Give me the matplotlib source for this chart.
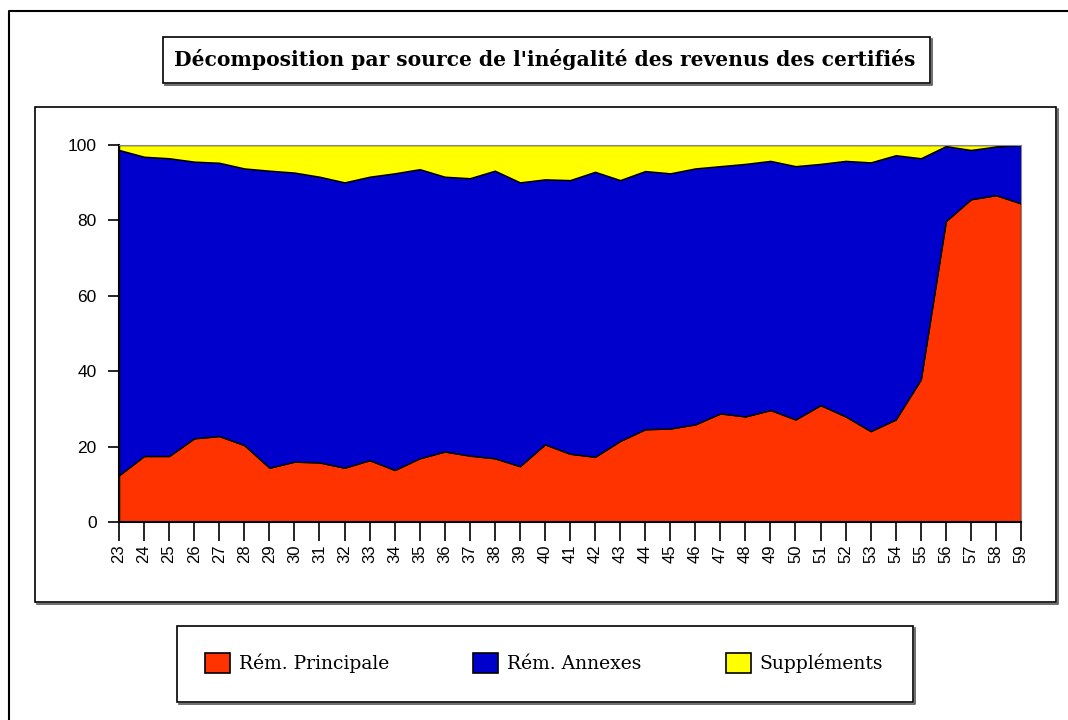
import matplotlib
matplotlib.use("Agg")
import matplotlib.pyplot as plt
from matplotlib.patches import Rectangle, Patch
from matplotlib.lines import Line2D
import numpy as np

# Data (share of inequality, %)
years = list(range(23, 60))
rem_principale = [12.4, 17.5, 17.5, 22.2, 22.8, 20.4, 14.4, 16.0, 15.8, 14.4,
                  16.4, 13.8, 16.9, 18.7, 17.6, 16.9, 14.8, 20.6, 18.1, 17.3,
                  21.5, 24.6, 24.8, 25.9, 28.8, 28.0, 29.7, 27.2, 31.0, 28.0,
                  24.1, 27.2, 37.8, 79.8, 85.6, 86.7, 84.5]
# cumulated top of "Rém. Annexes" (principale + annexes)
top_annexes = [98.7, 96.9, 96.5, 95.6, 95.3, 93.8, 93.2, 92.7, 91.6, 90.1,
               91.6, 92.5, 93.6, 91.6, 91.2, 93.2, 90.1, 90.9, 90.7, 92.9,
               90.7, 93.1, 92.5, 93.8, 94.4, 95.0, 95.8, 94.4, 95.0, 95.8,
               95.4, 97.3, 96.5, 99.7, 98.7, 99.6, 100.0]
rem_annexes = [t - p for t, p in zip(top_annexes, rem_principale)]
supplements = [100 - t for t in top_annexes]

labels = ["Rém. Principale", "Rém. Annexes", "Suppléments"]
colors = ["#FF3300", "#0000CC", "#FFFF00"]
title = "Décomposition par source de l'inégalité des revenus des certifiés"

W, H = 1068, 720
fig = plt.figure(figsize=(W / 100, H / 100), dpi=100)


def fx(x):
    return x / W


def fy(y):
    return 1 - y / H


def box(x0, y0, x1, y1, shadow=True):
    if shadow:
        fig.add_artist(Line2D([fx(x0 + 2), fx(x1 + 2), fx(x1 + 2)],
                              [fy(y1 + 2), fy(y1 + 2), fy(y0 + 2)],
                              color="#555555", lw=1.2, transform=fig.transFigure))
    fig.add_artist(Rectangle((fx(x0), fy(y1)), fx(x1) - fx(x0), fy(y0) - fy(y1),
                             transform=fig.transFigure, fill=False,
                             edgecolor="black", lw=1.2))


# outer frame (only left and top visible)
fig.add_artist(Line2D([fx(9), fx(9), fx(W)], [fy(H), fy(11), fy(11)],
                      color="black", lw=1.5, transform=fig.transFigure))

# title box
box(163, 37, 930, 83)
fig.text(fx(545), fy(60), title, ha="center", va="center",
         fontsize=14.6, fontweight="bold", family="DejaVu Serif")

# plot frame
box(35, 107, 1056, 602)

# axes
ax = fig.add_axes([fx(119), fy(522), fx(1021) - fx(119), fy(145) - fy(522)])
ax.stackplot(years, rem_principale, rem_annexes, supplements,
             colors=colors, edgecolor="black", linewidth=1.0)
ax.set_xlim(23, 59)
ax.set_ylim(0, 100)
ax.set_yticks([0, 20, 40, 60, 80, 100])
ax.set_xticks(years)
ax.set_xticklabels([str(y) for y in years], rotation=90)
ax.tick_params(axis="y", length=8, width=1.2, pad=8, labelsize=12.5)
ax.tick_params(axis="x", length=14, width=1.2, pad=2, labelsize=12)
for lab in ax.get_xticklabels() + ax.get_yticklabels():
    lab.set_family("Liberation Sans")
ax.spines["left"].set_linewidth(1.5)
ax.spines["bottom"].set_linewidth(1.5)
ax.spines["top"].set_color("#888888")
ax.spines["right"].set_color("#888888")
ax.set_facecolor("white")

# legend box
box(177, 626, 913, 702)
handles = [Patch(facecolor=c, edgecolor="black", lw=1.2) for c in colors]
fig.legend(handles, labels, ncol=3, loc="center",
           bbox_to_anchor=(fx(544), fy(663)), frameon=False,
           prop={"family": "DejaVu Serif", "size": 13.5},
           handlelength=1.33, handleheight=1.33, handletextpad=0.48,
           columnspacing=4.5)

fig.savefig("out.png", dpi=100)
